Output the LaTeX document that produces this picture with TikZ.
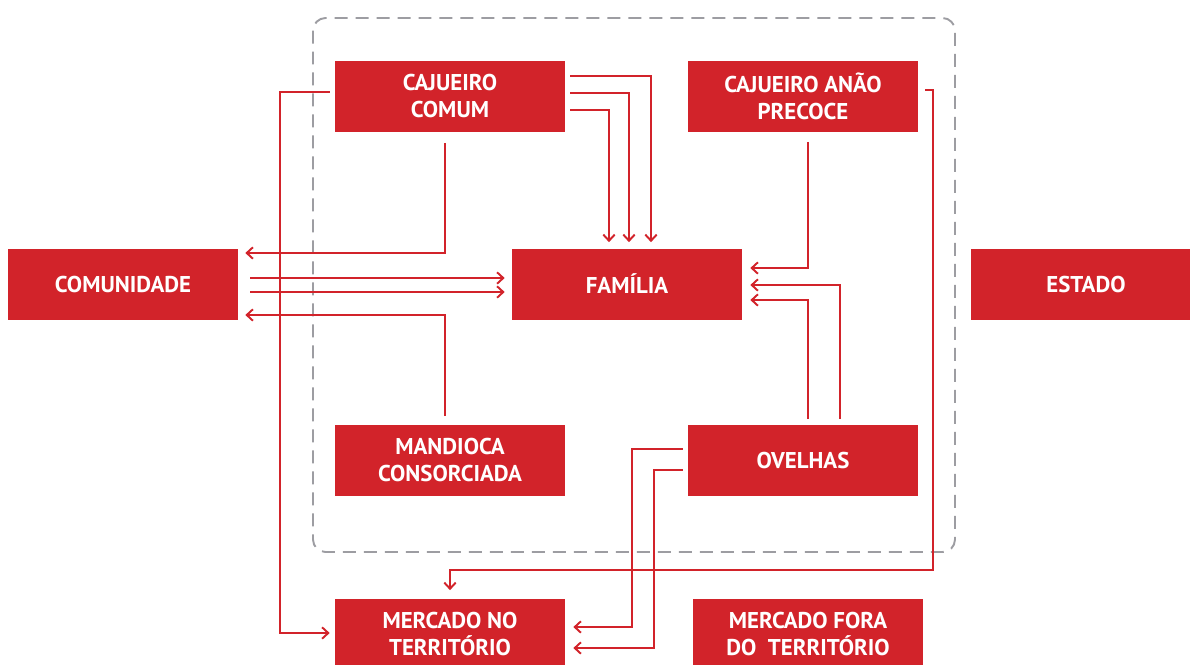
\documentclass[tikz,border=0pt]{standalone}
\usepackage{fontspec}
\setmainfont{PT Sans}
\usetikzlibrary{arrows.meta}
\definecolor{vermelho}{HTML}{D2232A}
\definecolor{cinza}{HTML}{9D9DA2}
\tikzset{
	box/.style = {shape=rectangle, fill=vermelho, text=white, align=center, minimum width=4.6cm, minimum height=1.42cm, inner sep=0pt, font=\fontsize{13}{15.4}\selectfont\bfseries},
	flow/.style = {draw=vermelho, line width=1.1pt, -{Straight Barb[length=3.5pt,width=6.5pt]}},
	limite/.style = {draw=cinza, line width=1.1pt, rounded corners=0.25cm, dash pattern=on 0.26cm off 0.16cm},
}
\begin{document}
\begin{tikzpicture}[x=0.02cm, y=-0.02cm]
		\useasboundingbox (0,0) rectangle (1190,664);
		\draw[limite] (313,18) rectangle (955,552);

		\node[box] (cajcomum) at (450,96) {CAJUEIRO\\COMUM};
		\node[box] (cajanao) at (803,96) {CAJUEIRO ANÃO\\PRECOCE};
		\node[box] (comunidade) at (123,284) {COMUNIDADE};
		\node[box] (familia) at (627,284) {FAMÍLIA};
		\node[box] (estado) at (1086,284) {ESTADO};
		\node[box] (mandioca) at (450,460) {MANDIOCA\\CONSORCIADA};
		\node[box] (ovelhas) at (803,460) {OVELHAS};
		\node[box] (mercno) at (450,634) {MERCADO NO\\TERRITÓRIO};
		\node[box] (mercfora) at (808,634) {MERCADO FORA\\DO~~TERRITÓRIO};

		% cajueiro comum
		\draw[flow] ([shift={(-5,-4)}]cajcomum.west) -| ([shift={(-55,-1)}]mercno.west) -- ([shift={(-5,-1)}]mercno.west);
		\draw[flow] ([shift={(-5,11)}]cajcomum.south) |- ([shift={(7,-31)}]comunidade.east);
		\draw[flow] ([shift={(5,-20)}]cajcomum.east) -| ([shift={(24,-6)}]familia.north);
		\draw[flow] ([shift={(5,-3)}]cajcomum.east) -| ([shift={(2,-6)}]familia.north);
		\draw[flow] ([shift={(5,14)}]cajcomum.east) -| ([shift={(-18,-6)}]familia.north);

		% comunidade e mandioca
		\draw[flow] ([shift={(12,-6)}]comunidade.east) -- ([shift={(-7,-6)}]familia.west);
		\draw[flow] ([shift={(12,8)}]comunidade.east) -- ([shift={(-7,8)}]familia.west);
		\draw[flow] ([shift={(-5,-8)}]mandioca.north) |- ([shift={(7,31)}]comunidade.east);

		% cajueiro anao e ovelhas
		\draw[flow] ([shift={(5,10)}]cajanao.south) |- ([shift={(8,-16)}]familia.east);
		\draw[flow] ([shift={(37,-5)}]ovelhas.north) |- ([shift={(8,1)}]familia.east);
		\draw[flow] ([shift={(5,-5)}]ovelhas.north) |- ([shift={(8,16)}]familia.east);
		\draw[flow] ([shift={(7,-6)}]cajanao.east) -| ([shift={(483,-28)}]mercno.north) -| ([shift={(0,-8)}]mercno.north);
		\draw[flow] ([shift={(-5,-11)}]ovelhas.west) -| ([shift={(67,-7)}]mercno.east) -- ([shift={(8,-7)}]mercno.east);
		\draw[flow] ([shift={(-5,10)}]ovelhas.west) -| ([shift={(89,14)}]mercno.east) -- ([shift={(8,14)}]mercno.east);
	\end{tikzpicture}
\end{document}
